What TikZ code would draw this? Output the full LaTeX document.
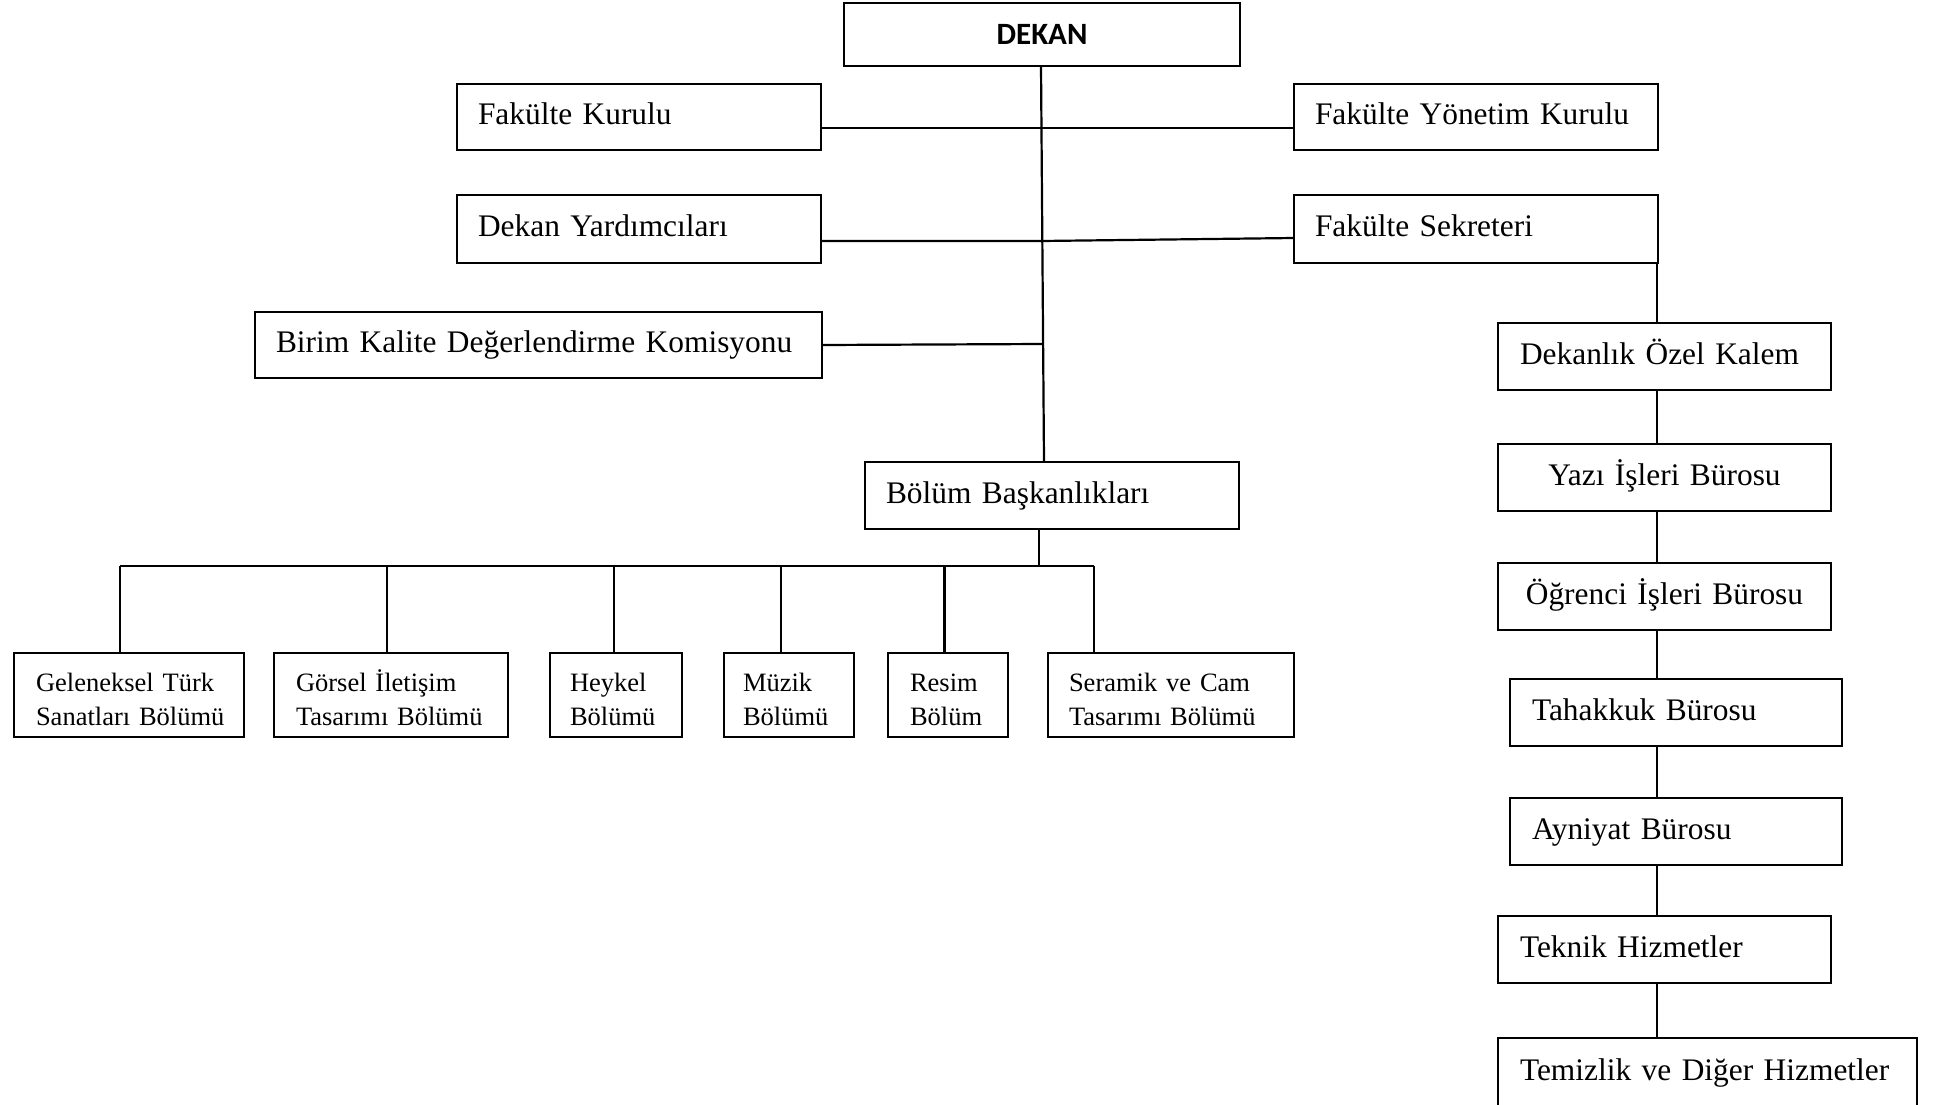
\documentclass[tikz,border=0pt]{standalone}
\usepackage{fontspec}
\setmainfont{Liberation Serif}
\newfontfamily\calibrifont{Carlito}
\usetikzlibrary{calc}

\tikzset{
  orgbox/.style={draw, line width=1.1pt, outer sep=0pt, inner ysep=0pt, align=left,
    text height=11pt, text depth=3.5pt,
    font=\fontsize{15.7}{19}\selectfont},
  smallbox/.style={font=\fontsize{13.25}{17}\selectfont, text height=13pt, text depth=17pt},
  conn/.style={line width=1.1pt}
}

\newcommand\orgBox[8]{%
 \pgfmathsetmacro\obW{(#4-#2)*0.5}%
 \pgfmathsetmacro\obH{(#5-#3)*0.5}%
 \pgfmathsetmacro\obT{(#4-#2-2*#6)*0.5}%
 \pgfmathsetmacro\obP{#6*0.5}%
 \node[orgbox,#7, anchor=north west, minimum width=\obW pt, minimum height=\obH pt,
   text width=\obT pt, inner xsep=\obP pt] (#1) at (#2,#3) {#8};}

\begin{document}
\begin{tikzpicture}[x=0.5pt,y=-0.5pt]
\useasboundingbox (0,0) rectangle (1933,1104);
\clip (0,0) rectangle (1933,1104);
\fill[white] (0,0) rectangle (1933,1104);

% top part
\orgBox{dekan}{844}{3}{1240}{66}{10}{align=center,text height=10pt,text depth=0pt,font=\calibrifont\bfseries\fontsize{15.5}{18}\selectfont}{DEKAN}
\orgBox{fk}{457}{84}{821}{150}{21}{}{Fakülte~Kurulu}
\orgBox{fyk}{1294}{84}{1658}{150}{21}{}{Fakülte~Yönetim~Kurulu}
\orgBox{dy}{457}{195}{821}{263}{21}{}{Dekan~Yardımcıları}
\orgBox{fs}{1294}{195}{1658}{263}{21}{}{Fakülte~Sekreteri}
\orgBox{bk}{255}{312}{822}{378}{21}{}{Birim~Kalite~Değerlendirme~Komisyonu}
\orgBox{bb}{865}{462}{1239}{529}{21}{}{Bölüm~Başkanlıkları}

% right chain
\orgBox{dok}{1498}{323}{1831}{390}{22}{}{Dekanlık~Özel~Kalem}
\orgBox{yaz}{1498}{444}{1831}{511}{10}{align=center}{Yazı~İşleri~Bürosu}
\orgBox{ogr}{1498}{563}{1831}{630}{10}{align=center}{Öğrenci~İşleri~Bürosu}
\orgBox{tah}{1510}{679}{1842}{746}{22}{}{Tahakkuk~Bürosu}
\orgBox{ayn}{1510}{798}{1842}{865}{22}{}{Ayniyat~Bürosu}
\orgBox{tek}{1498}{916}{1831}{983}{22}{}{Teknik~Hizmetler}
\orgBox{tem}{1498}{1038}{1917}{1108}{22}{}{Temizlik~ve~Diğer~Hizmetler}

% departments
\orgBox{gel}{14}{653}{244}{737}{22}{smallbox}{Geleneksel~Türk\\Sanatları~Bölümü}
\orgBox{gor}{274}{653}{508}{737}{22}{smallbox}{Görsel~İletişim\\Tasarımı~Bölümü}
\orgBox{hey}{550}{653}{682}{737}{20}{smallbox}{Heykel\\Bölümü}
\orgBox{muz}{724}{653}{854}{737}{19}{smallbox}{Müzik\\Bölümü}
\orgBox{res}{888}{653}{1008}{737}{22}{smallbox}{Resim\\Bölüm}
\orgBox{ser}{1048}{653}{1294}{737}{21}{smallbox}{Seramik~ve~Cam\\Tasarımı~Bölümü}

% junctions
\coordinate (jA) at (1041,241);
\coordinate (jB) at (1042,344);
\coordinate (chain) at (1657,0);
\coordinate (busL) at (120,566);
\coordinate (busR) at (1094,566);

% connectors
\draw[conn] ($(dekan.south)+(-1,0)$) -- ($(bb.north)+(-8,0)$);
\draw[conn] ($(fk.east)+(0,11)$) -- ($(fyk.west)+(0,11)$);
\draw[conn] ($(dy.east)+(0,12)$) -- (jA) -- ($(fs.west)+(0,9)$);
\draw[conn] (bk.east) -- (jB);

\draw[conn] (chain |- fs.south) -- (chain |- dok.north);
\draw[conn] (chain |- dok.south) -- (chain |- yaz.north);
\draw[conn] (chain |- yaz.south) -- (chain |- ogr.north);
\draw[conn] (chain |- ogr.south) -- (chain |- tah.north);
\draw[conn] (chain |- tah.south) -- (chain |- ayn.north);
\draw[conn] (chain |- ayn.south) -- (chain |- tek.north);
\draw[conn] (chain |- tek.south) -- (chain |- tem.north);

\coordinate (bbd) at ([xshift=-6.5pt]bb.south);
\draw[conn] (bbd) -- (bbd |- busL);
\draw[conn] (busL) -- (busR);
\foreach \n/\s in {gel/-4.5, gor/-2, hey/-1, muz/-4, res/-1.75, ser/-38.5}{
  \coordinate (drop) at ([xshift=\s pt]\n.north);
  \draw[conn] (drop) -- (drop |- busL);
}
\end{tikzpicture}
\end{document}
